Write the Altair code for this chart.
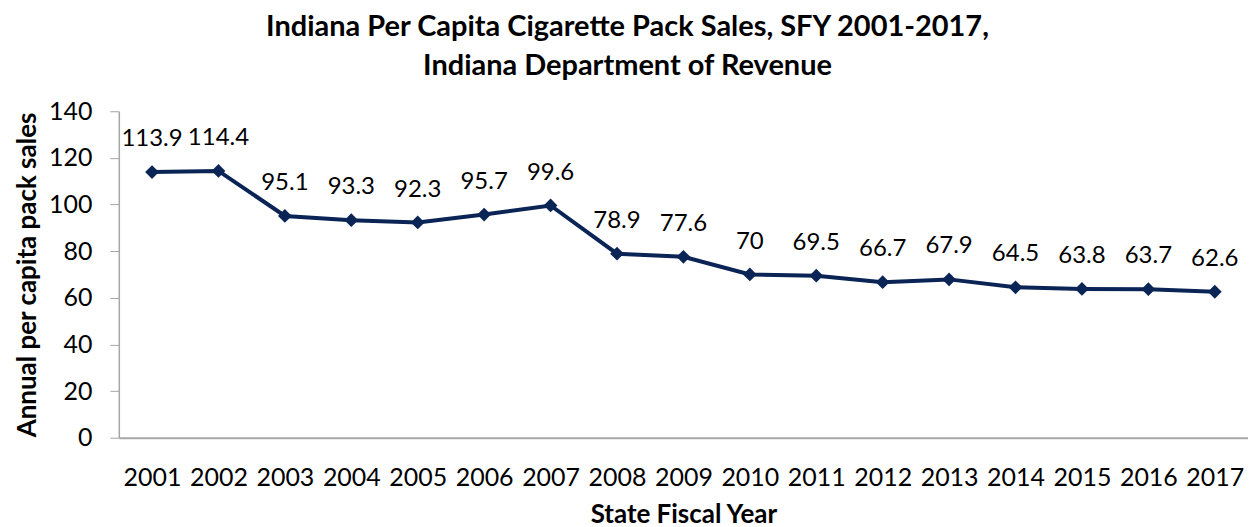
import altair as alt
import pandas as pd

years = [str(y) for y in range(2001, 2018)]
sales = [113.9, 114.4, 95.1, 93.3, 92.3, 95.7, 99.6, 78.9, 77.6, 70, 69.5, 66.7, 67.9, 64.5, 63.8, 63.7, 62.6]
labels = ["113.9", "114.4", "95.1", "93.3", "92.3", "95.7", "99.6", "78.9", "77.6", "70",
          "69.5", "66.7", "67.9", "64.5", "63.8", "63.7", "62.6"]

df = pd.DataFrame({"year": years, "sales": sales, "label": labels})

FONT = "Lato"
NAVY = "#0A2456"
GRAY = "#A6A6A6"

x = alt.X("year:O", scale=alt.Scale(paddingInner=0, paddingOuter=0),
          axis=alt.Axis(title="State Fiscal Year", labelAngle=0, ticks=False, tickSize=0,
                        domainColor=GRAY, domainWidth=2, labelFontSize=25, labelFont=FONT,
                        labelColor="#000000", labelBaseline="alphabetic", labelPadding=48,
                        titleFont=FONT, titleFontSize=26, titleFontWeight="bold",
                        titleColor="#000000", titlePadding=11))
y = alt.Y("sales:Q", scale=alt.Scale(domain=[0, 140], nice=False),
          axis=alt.Axis(title="Annual per capita pack sales", values=list(range(0, 141, 20)),
                        grid=False, tickSize=9, tickColor=GRAY, domainColor=GRAY, domainWidth=1.5,
                        labelFontSize=25, labelFont=FONT, labelColor="#000000", labelPadding=18,
                        titleFont=FONT, titleFontSize=26, titleFontWeight="bold",
                        titleColor="#000000", titlePadding=8))

base = alt.Chart(df).encode(x=x, y=y)
line = base.mark_line(color=NAVY, strokeWidth=4)
pts = base.mark_point(shape="diamond", filled=True, size=190, color=NAVY, opacity=1)
txt = base.mark_text(font=FONT, fontSize=24, color="#000000", baseline="alphabetic", dy=-26).encode(text="label:N")

chart = alt.layer(line, pts, txt).properties(
    width=1131, height=327,
    title=alt.TitleParams(
        text=["Indiana Per Capita Cigarette Pack Sales, SFY 2001-2017,", "Indiana Department of Revenue"],
        font=FONT, fontSize=29, fontWeight="bold", color="#000000", anchor="middle",
        dx=-56, offset=18, lineHeight=39),
    autosize=alt.AutoSizeParams(type="none"),
    padding={"left": 111, "top": 103, "right": 0, "bottom": 90},
).configure_view(stroke=None)

chart.save("out.html", embed_options={"renderer": "svg", "actions": False})
